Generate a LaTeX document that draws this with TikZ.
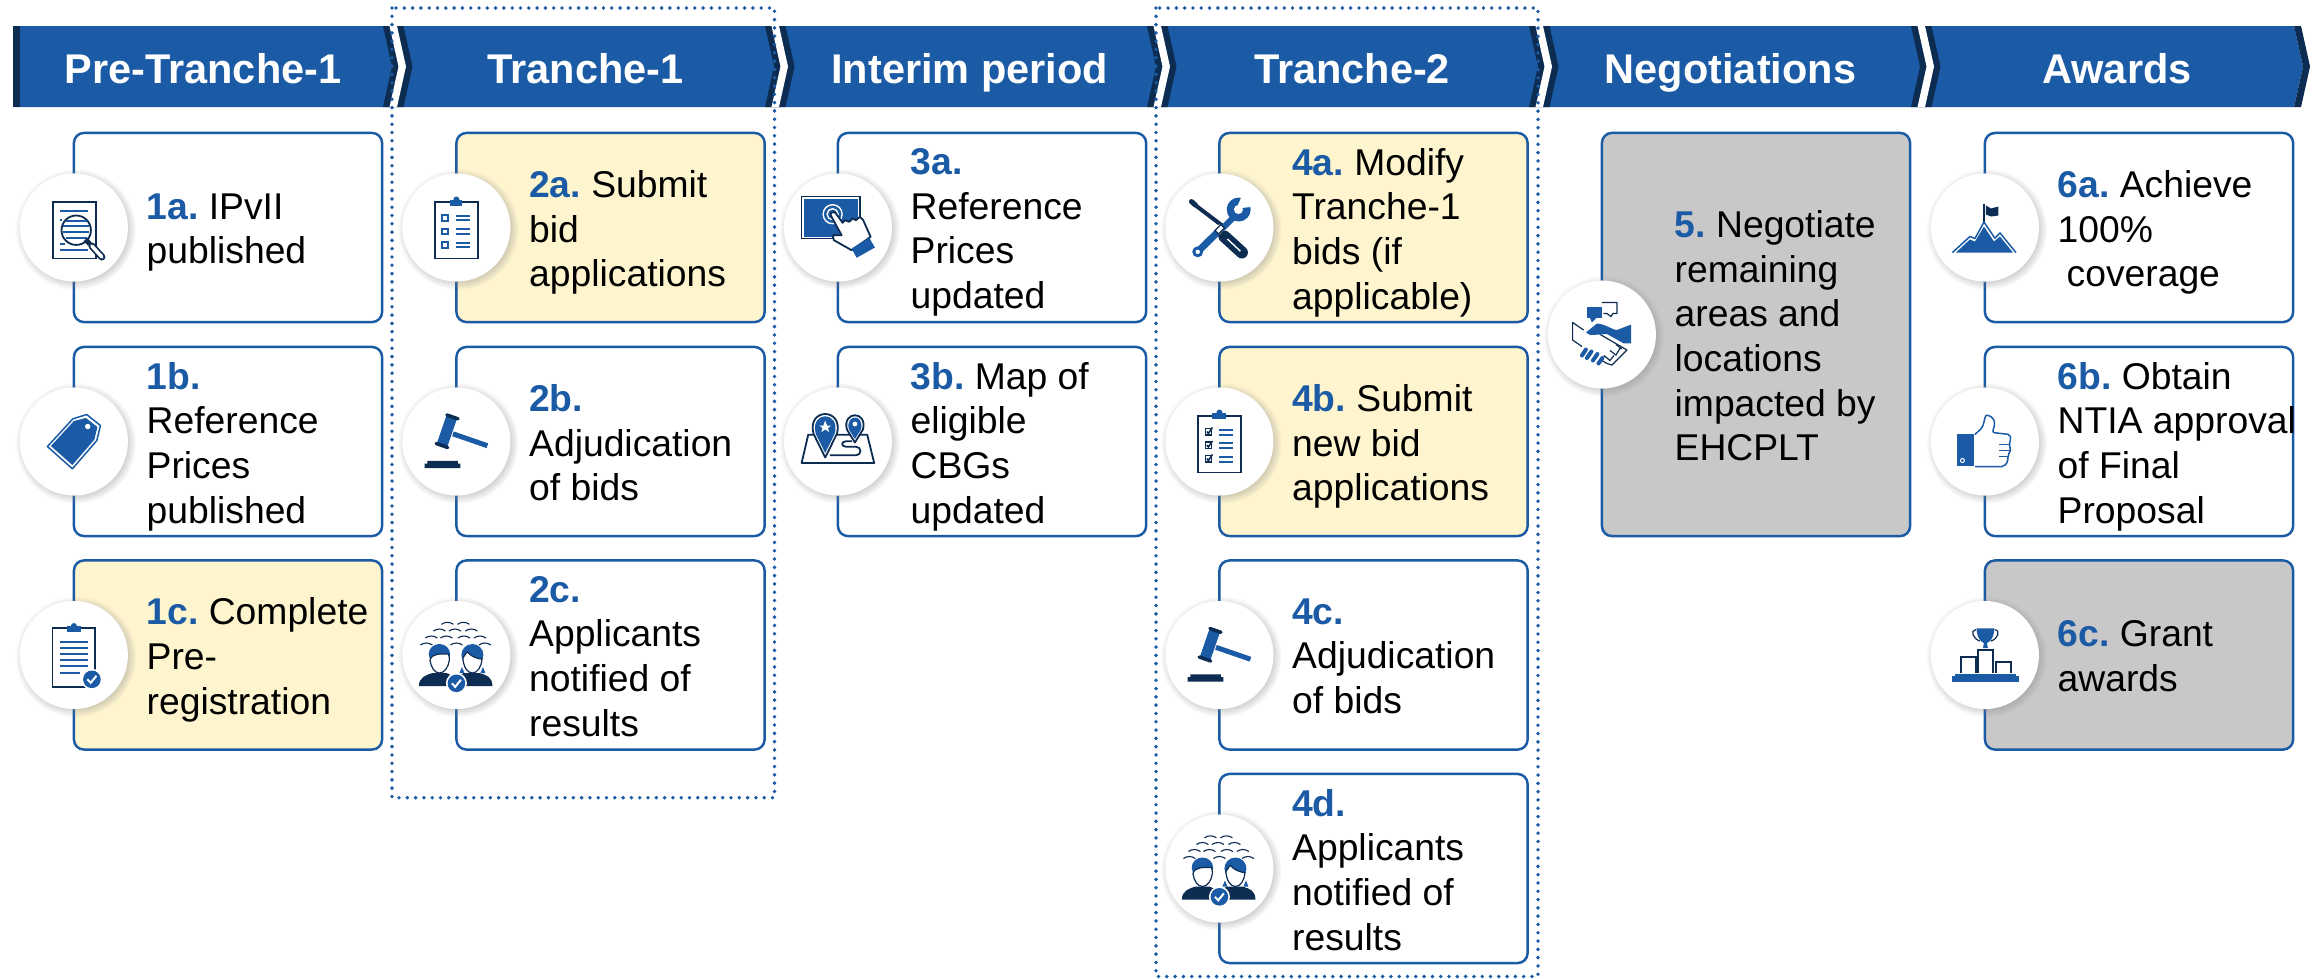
\documentclass[tikz,border=0pt]{standalone}
\usepackage{fontspec}
\setmainfont{Liberation Sans}
\usetikzlibrary{positioning,shadows}
\definecolor{trblue}{HTML}{1B5AA5}
\definecolor{trdark}{HTML}{0D2C52}
\definecolor{tryellow}{HTML}{FEF4CE}
\definecolor{trgrey}{HTML}{C8C8C8}
\newcommand{\stepno}[1]{\textcolor{trblue}{\textbf{#1}}}
\tikzset{
	headtext/.style={anchor=base,inner sep=0pt,text=white,font=\fontsize{11.8}{14}\selectfont\bfseries\frenchspacing},
	itembox/.style={draw=trblue,line width=0.7pt,rounded corners=0.1cm,fill=white,outer sep=0pt,minimum width=3.08cm,minimum height=1.89cm},
	yellowbox/.style={itembox,fill=tryellow},
	greybox/.style={itembox,fill=trgrey},
	itemtext/.style={inner sep=0pt,align=left,yshift=-2.2pt,font=\fontsize{10.6}{12.7}\selectfont\frenchspacing,execute at begin node=\strut,execute at end node=\strut},
	iconball/.style={circle,fill=white,minimum size=1.08cm,inner sep=0pt,circular drop shadow={shadow xshift=0.4pt,shadow yshift=-0.4pt,shadow scale=1.12,opacity=0.35}},
	dotbox/.style={trblue,line width=1.1pt,line cap=round,dash pattern=on 0pt off 2.36pt},
	iconline/.style={trdark,line width=0.018cm},
	bluerule/.style={trblue,line width=0.02cm},
	sepband/.pic={
		\fill[trdark] (0,26) -- (20.5,26) -- (29.5,66.5) -- (20.5,107) -- (0,107) -- (9,66.5) -- cycle;
		\fill[white] (6.5,26) -- (14,26) -- (23,66.5) -- (14,107) -- (6.5,107) -- (15.5,66.5) -- cycle;
	},
	checkbadge/.pic={
		\fill[white] (0,0) circle[radius=10.5];
		\fill[trblue] (0,0) circle[radius=8.8];
		\draw[white,line width=0.02cm] (-4.5,0) -- (-1.2,3.5) -- (4.5,-3.5);
	},
	docicon/.pic={
		\draw[iconline,fill=white] (-21.3,-25.7) rectangle (21.7,31);
		\draw[bluerule] (-14,-16.7) -- (14,-16.7) (-14,22) -- (14,22) (-14,16) -- (-9,16) (-14,-8) -- (-12,-8);
		\draw[iconline,fill=white] (2.3,2.7) circle[radius=14.7];
		\draw[bluerule] (-8.3,-6.7) -- (13.3,-6.7) (-10.5,-1.3) -- (15,-1.3) (-10.5,4.3) -- (15,4.3) (-8.3,10.3) -- (13.3,10.3);
		\draw[trdark,line width=0.05cm] (11.5,12) -- (16,16.5);
		\draw[trdark,line width=0.07cm,line cap=round] (18,18.5) -- (28,29.5);
		\draw[white,line width=0.035cm,line cap=round] (18,18.5) -- (28,29.5);
	},
	tagicon/.pic={
		\draw[trblue,line width=0.015cm,fill=white,line join=round] (12.8,-27) -- (26.5,-16) -- (22.9,-1) -- (-1.5,27.3) -- (-26.5,5) -- (-1,-22.7) -- cycle;
		\fill[trblue] (12,-23.5) -- (23.5,-14.5) -- (20.5,-2) -- (-1.5,23.5) -- (-23,4.5) -- (0,-20.5) -- cycle;
		\fill[white] (13.8,-15) circle[radius=2.7];
	},
	listicon/.pic={
		\draw[iconline,fill=white] (-21.4,-25.7) rectangle (21.4,31);
		\fill[trblue] (-6,-28) rectangle (6,-22);
		\fill[trblue] (0,-28) circle[radius=3];
		\draw[bluerule] (-14,-12.3) rectangle (-8,-6.7) (-14,1.2) rectangle (-8,6.8) (-14,14.7) rectangle (-8,20.3);
		\draw[bluerule] (-0.5,-12) -- (14,-12) (-0.5,-7.5) -- (14,-7.5) (-0.5,1.5) -- (14,1.5) (-0.5,6) -- (14,6) (-0.5,15) -- (14,15) (-0.5,19.5) -- (14,19.5);
	},
	checklisticon/.pic={
		\draw[iconline,fill=white] (-21.4,-25.7) rectangle (21.4,31);
		\fill[trblue] (-7,-29) rectangle (7,-23);
		\fill[trblue] (0,-29) circle[radius=3];
		\draw[iconline,line width=0.012cm] (-14,-13) rectangle (-8,-6.5) (-14,0.5) rectangle (-8,7) (-14,14) rectangle (-8,20.5);
		\draw[trdark,line width=0.016cm] (-12.5,-10) -- (-11,-8) -- (-7,-14) (-12.5,3.5) -- (-11,5.5) -- (-7,-0.5) (-12.5,17) -- (-11,19) -- (-7,13);
		\draw[bluerule] (0,-12) -- (14,-12) (0,-7) -- (14,-7) (0,1.5) -- (14,1.5) (0,6.5) -- (14,6.5) (0,15) -- (14,15) (0,20) -- (14,20);
	},
	gavelicon/.pic={
		\draw[trblue,line width=0.05cm] (-3.5,-7.7) -- (31,4.2);
		\draw[trblue,line width=0.11cm] (-4.5,-25) -- (-14.5,4);
		\draw[trdark,line width=0.035cm,line cap=round] (-9.5,-26.5) -- (1.5,-22.7) (-20.2,2) -- (-8.7,6);
		\fill[trdark] (-31.7,22) rectangle (4,26.7) (-29,19.3) rectangle (1.5,22);
	},
	peopleicon/.pic={
		\draw[trdark,line width=0.011cm] (-15,-30.7) to[bend left=35] (-3,-30.7) (1,-30.7) to[bend left=35] (13,-30.7)
			(-23,-24) to[bend left=35] (-11,-24) (-7.5,-24) to[bend left=35] (4.5,-24) (9,-24) to[bend left=35] (21,-24)
			(-31,-17) to[bend left=35] (-19,-17) (-16,-17) to[bend left=35] (-4,-17) (1.5,-17) to[bend left=35] (13.5,-17) (17.5,-17) to[bend left=35] (29.5,-17)
			(-36,-10) to[bend left=35] (-24,-10) (-6,-10) to[bend left=35] (6,-10) (22.5,-10) to[bend left=35] (34.5,-10);
		\fill[trdark] (-37.5,31) .. controls (-37.5,22) and (-30,20) .. (-24,18) -- (-10,18) .. controls (-5,20) and (-2,22) .. (0,26) .. controls (2,22) and (4,20) .. (7,18) -- (23,18) .. controls (30,20) and (36,22) .. (36,31) -- cycle;
		\fill[trblue] (3,18) -- (5.5,12) -- (8,18) -- cycle (24,18) -- (26.5,12) -- (29,18) -- cycle;
		\fill[trblue] (-17,-1) ellipse[x radius=10.7,y radius=10];
		\fill[trblue] (16,0) ellipse[x radius=11,y radius=11];
		\draw[trdark,line width=0.012cm,fill=white] (-26.5,5) .. controls (-24,-2) and (-16,-1) .. (-8,-1) .. controls (-7,2) and (-7,3) .. (-7,5) .. controls (-8,12) and (-12,18) .. (-17,18) .. controls (-22,18) and (-25.5,12) .. (-26.5,5) -- cycle;
		\draw[trdark,line width=0.012cm,fill=white] (6.5,3) .. controls (10,-2) and (10,-3) .. (11,-3) .. controls (15,2) and (22,4) .. (25.5,4) .. controls (25,12) and (21,18) .. (16,18) .. controls (11,18) and (7,12) .. (6.5,3) -- cycle;
		\pic at (0,28.3) {checkbadge};
	},
	clipicon/.pic={
		\draw[iconline,fill=white] (-21.4,-26.7) rectangle (21.4,31.7);
		\fill[trblue] (-7,-29) rectangle (7,-23);
		\fill[trblue] (0,-29) circle[radius=3];
		\draw[bluerule] (-14,-13) -- (14,-13) (-14,-7) -- (14,-7) (-14,-1) -- (14,-1) (-14,5) -- (14,5) (-14,11) -- (14,11) (-14,18) -- (6,18);
		\pic at (18,24.3) {checkbadge};
	},
	touchicon/.pic={
		\draw[trdark,line width=0.012cm] (-36.3,-30.7) rectangle (22,11);
		\fill[trblue] (-34.3,-28.7) rectangle (20,9.3);
		\draw[white,line width=0.014cm] (-5.3,-13.3) circle[radius=9.5];
		\draw[white,line width=0.014cm] (-5.3,-13.3) circle[radius=5.5];
		\draw[iconline,fill=white,line join=round] (-7.3,-12.3) .. controls (-8,-16) and (-3,-16) .. (-2,-14) -- (4.7,-4.7) -- (7,-7.3) -- (11.3,-5.7) -- (14.7,-9) -- (18,-7.3) -- (22,-10.7) -- (25.3,-7.3) -- (32.7,9.3) -- (13.7,22.7) -- (-4,12.7) .. controls (-6,9) and (-4,6) .. (-3,7.7) -- (3.7,7.7) -- cycle;
		\fill[trblue] (13.7,21) -- (31.3,10.3) -- (37,20) -- (18.7,30.3) -- cycle;
	},
	mapicon/.pic={
		\draw[iconline,line join=round] (-29.7,-6.8) -- (29.3,-6.8) -- (36.3,21.5) -- (-36.3,21.5) -- cycle;
		\draw[iconline,line join=round] (-8,13.8) -- (18,13.8) .. controls (24,13.8) and (24,5.2) .. (18,5.2) -- (8,5.2) .. controls (3,5.2) and (3,-0.2) .. (8,-0.2) -- (14,-0.2);
		\draw[iconline,fill=white,line join=round] (-12.7,16) -- (-24.5,-8) .. controls (-31,-34) and (5.6,-34) .. (-0.9,-8) -- cycle;
		\fill[trblue] (-12.7,11.5) -- (-22.3,-8) .. controls (-28,-31) and (2.6,-31) .. (-3.1,-8) -- cycle;
		\draw[iconline,fill=white,line join=round] (17,1) -- (9,-12) .. controls (4,-31) and (30,-31) .. (25,-12) -- cycle;
		\fill[trblue] (17,-2.5) -- (11,-12) .. controls (7,-28) and (27,-28) .. (23,-12) -- cycle;
		\fill[white] (-12.7,-21) -- (-10.9,-16) -- (-6.7,-16) -- (-10,-13.5) -- (-8.8,-9.5) -- (-12.7,-12) -- (-16.6,-9.5) -- (-15.4,-13.5) -- (-18.7,-16) -- (-14.5,-16) -- cycle;
		\fill[white] (17,-17.5) circle[radius=2.4];
	},
	toolsicon/.pic={
		\draw[trdark,line width=0.04cm,line cap=round] (-27,-24.5) -- (2.3,-2.3);
		\draw[trdark,line width=0.05cm,line cap=round] (-28,-26) -- (-24,-22.5);
		\draw[trblue,line width=0.07cm,line cap=round] (-20,22.5) -- (3,0);
		\fill[trblue] (-21.7,24.3) circle[radius=5.5];
		\fill[white] (-21.7,24.3) circle[radius=2.2];
		\draw[trblue,line width=0.06cm] (4,0) -- (15,-11);
		\fill[trblue] (19.3,-18) circle[radius=12];
		\fill[white] (19,-18) circle[radius=4.5];
		\fill[white] (17,-19) -- (23,-33) -- (36,-21) -- cycle;
		\draw[trdark,line width=0.12cm,line cap=round] (5,9) -- (22.5,25);
		\draw[white,line width=0.014cm] (8,11.5) -- (21,23.7);
		\draw[white,line width=0.07cm] (-2.5,4.5) -- (2.5,-1);
		\draw[trdark,line width=0.012cm] (-4.5,3) -- (-1,6.5) -- (5,0.5) -- (1.5,-3) -- cycle;
	},
	shakeicon/.pic={
		\fill[trblue] (-15,-28) rectangle (0,-17);
		\fill[trblue] (-12,-17) -- (-5,-17) -- (-10,-12) -- cycle;
		\draw[iconline,line width=0.012cm,line join=round] (0,-32) -- (15,-32) -- (15,-21) -- (11,-21) -- (9,-18) -- (5,-21) -- (1.5,-21);
		\draw[iconline,line width=0.012cm,line join=round] (-18.3,-4.5) -- (-29.3,-12) -- (-29.3,5.5) -- (-20,12);
		\draw[iconline,line width=0.012cm,line join=round] (-1.7,0) -- (25,15.5) -- (10,30.5) -- (5,29) -- (0,26);
		\draw[iconline,line width=0.012cm] (2,21) -- (8,26) -- (12,21) (8,16) -- (14,20.5) -- (18,14) (14,10) -- (20,14.5);
		\fill[trblue] (29.3,-10) -- (29.3,8.8) -- (21.7,8.8) -- (5,-0.5) -- (-1.7,0) -- (-11.7,0.5) -- (-16,-2) -- (-5,-11) .. controls (2,-11) and (12,-4) .. (15,-4.5) -- cycle;
		\draw[trblue,line width=0.04cm,line cap=round] (-20,21) -- (-16,15) (-15,23.5) -- (-10.5,17) (-9,26) -- (-4.5,19.5) (-3.5,29) -- (0.5,23.5);
	},
	mountainicon/.pic={
		\draw[trdark,line width=0.012cm] (-1,-24) -- (-1,-3.5);
		\fill[trdark] (1,-22) -- (6,-19) -- (13.5,-21) -- (13.5,-12) -- (6,-11) -- (1,-13) -- cycle;
		\draw[trblue,line width=0.015cm,line join=round] (-32.5,25) -- (-15,9) -- (-10,11) -- (-1,-5.4) -- (10,10.7) -- (15,5.4) -- (31,25);
		\fill[trblue] (-29,25) -- (-15,12) -- (-10,14) -- (-1,-1) -- (9,14) -- (15,9) -- (28,25) -- cycle;
	},
	thumbicon/.pic={
		\fill[trblue] (-27.5,-8) rectangle (-11,24);
		\draw[white,line width=0.01cm] (-22.5,19) circle[radius=2];
		\draw[trblue,line width=0.015cm,fill=white,line join=round,rounded corners=0.02cm] (-10,-7) -- (-2.5,-14) -- (1,-27) -- (8,-24) -- (10,-18) -- (7.5,-9) -- (25,-7) -- (26,-2) -- (24,3) -- (26,8) -- (23,14) -- (23,20) -- (19,25) -- (-10,25);
		\draw[trblue,line width=0.015cm] (14,3) -- (24,3) (14,9) -- (25,9) (14,15) -- (23,15);
	},
	trophyicon/.pic={
		\fill[trblue] (-33,21) rectangle (34,27);
		\fill[trblue] (-30,18.5) rectangle (31,21);
		\draw[iconline] (-24,18) -- (-24,1.7) -- (-9,1.7) -- (-9,18);
		\draw[iconline] (-7,18) -- (-7,-5) -- (8,-5) -- (8,18);
		\draw[iconline] (11,18) -- (11,7) -- (26,7) -- (26,18);
		\fill[trblue] (-8.5,-26.7) -- (9.5,-26.7) .. controls (9,-17) and (5,-13) .. (2,-12) -- (3,-7) -- (-2,-7) -- (-1,-12) .. controls (-4,-13) and (-8,-17) .. (-8.5,-26.7) -- cycle;
		\draw[iconline,line width=0.012cm] (-9,-25.5) .. controls (-15,-25) and (-12,-16) .. (-5,-14) (10,-25.5) .. controls (16,-25) and (13,-16) .. (6,-14);
	}
}
\begin{document}
\begin{tikzpicture}[
	x=0.01cm,
	y=-0.01cm,
	line join=miter
	]
	\useasboundingbox (0,0) rectangle (2313,978);
	% header band
	\fill[trblue] (13,26) -- (2294,26) -- (2303,66.5) -- (2294,107) -- (13,107) -- cycle;
	\fill[trdark] (13,26) rectangle (20,107);
	\pic at (383,0) {sepband};
	\pic at (765,0) {sepband};
	\pic at (1147,0) {sepband};
	\pic at (1529,0) {sepband};
	\pic at (1911,0) {sepband};
	\fill[trdark] (2294,26) -- (2301,26) -- (2310,66.5) -- (2301,107) -- (2294,107) -- (2303,66.5) -- cycle;
	\node[headtext] (hpre) at (203,83) {Pre-Tranche-1};
	\node[headtext] (htr1) at (585.5,83) {Tranche-1};
	\node[headtext] (hint) at (969.7,83) {Interim period};
	\node[headtext] (htr2) at (1352,83) {Tranche-2};
	\node[headtext] (hneg) at (1730.5,83) {Negotiations};
	\node[headtext] (hawd) at (2117,83) {Awards};
	% boxes
	\node[itembox] (b1a) at (228,227.5) {};
	\node[itembox] (b1b) at (228,441.5) {};
	\node[yellowbox] (b1c) at (228,655) {};
	\node[yellowbox] (b2a) at (610.5,227.5) {};
	\node[itembox] (b2b) at (610.5,441.5) {};
	\node[itembox] (b2c) at (610.5,655) {};
	\node[itembox] (b3a) at (992,227.5) {};
	\node[itembox] (b3b) at (992,441.5) {};
	\node[yellowbox] (b4a) at (1373.5,227.5) {};
	\node[yellowbox] (b4b) at (1373.5,441.5) {};
	\node[itembox] (b4c) at (1373.5,655) {};
	\node[itembox] (b4d) at (1373.5,868.5) {};
	\node[greybox,minimum height=4.03cm] (b5) at (1756,334.5) {};
	\node[itembox] (b6a) at (2139,227.5) {};
	\node[itembox] (b6b) at (2139,441.5) {};
	\node[greybox] (b6c) at (2139,655) {};
	% texts
	\node[itemtext,right=0.72cm of b1a.west] (t1a) {\stepno{1a.} IPvII\\published};
	\node[itemtext,right=0.72cm of b1b.west] (t1b) {\stepno{1b.}\\Reference\\Prices\\published};
	\node[itemtext,right=0.72cm of b1c.west] (t1c) {\stepno{1c.} Complete\\Pre-\\registration};
	\node[itemtext,right=0.72cm of b2a.west] (t2a) {\stepno{2a.} Submit\\bid\\applications};
	\node[itemtext,right=0.72cm of b2b.west] (t2b) {\stepno{2b.}\\Adjudication\\of bids};
	\node[itemtext,right=0.72cm of b2c.west] (t2c) {\stepno{2c.}\\Applicants\\notified of\\results};
	\node[itemtext,right=0.72cm of b3a.west] (t3a) {\stepno{3a.}\\Reference\\Prices\\updated};
	\node[itemtext,right=0.72cm of b3b.west] (t3b) {\stepno{3b.} Map of\\eligible\\CBGs\\updated};
	\node[itemtext,right=0.72cm of b4a.west] (t4a) {\stepno{4a.} Modify\\Tranche-1\\bids (if\\applicable)};
	\node[itemtext,right=0.72cm of b4b.west] (t4b) {\stepno{4b.} Submit\\new bid\\applications};
	\node[itemtext,right=0.72cm of b4c.west] (t4c) {\stepno{4c.}\\Adjudication\\of bids};
	\node[itemtext,right=0.72cm of b4d.west] (t4d) {\stepno{4d.}\\Applicants\\notified of\\results};
	\node[itemtext,right=0.72cm of b5.west] (t5) {\stepno{5.} Negotiate\\remaining\\areas and\\locations\\impacted by\\EHCPLT};
	\node[itemtext,right=0.72cm of b6a.west] (t6a) {\stepno{6a.} Achieve\\100\%\\\hspace*{0.24em}coverage};
	\node[itemtext,right=0.72cm of b6b.west] (t6b) {\stepno{6b.} Obtain\\NTIA approval\\of Final\\Proposal};
	\node[itemtext,right=0.72cm of b6c.west] (t6c) {\stepno{6c.} Grant\\awards};
	% icons
	\node[iconball] (i1a) at (b1a.west) {};
	\node[iconball] (i1b) at (b1b.west) {};
	\node[iconball] (i1c) at (b1c.west) {};
	\node[iconball] (i2a) at (b2a.west) {};
	\node[iconball] (i2b) at (b2b.west) {};
	\node[iconball] (i2c) at (b2c.west) {};
	\node[iconball] (i3a) at (b3a.west) {};
	\node[iconball] (i3b) at (b3b.west) {};
	\node[iconball] (i4a) at (b4a.west) {};
	\node[iconball] (i4b) at (b4b.west) {};
	\node[iconball] (i4c) at (b4c.west) {};
	\node[iconball] (i4d) at (b4d.west) {};
	\node[iconball] (i5) at (b5.west) {};
	\node[iconball] (i6a) at (b6a.west) {};
	\node[iconball] (i6b) at (b6b.west) {};
	\node[iconball] (i6c) at (b6c.west) {};
	\pic at (i1a) {docicon};
	\pic at (i1b) {tagicon};
	\pic at (i1c) {clipicon};
	\pic at (i2a) {listicon};
	\pic at (i2b) {gavelicon};
	\pic at (i2c) {peopleicon};
	\pic at (i3a) {touchicon};
	\pic at (i3b) {mapicon};
	\pic at (i4a) {toolsicon};
	\pic at (i4b) {checklisticon};
	\pic at (i4c) {gavelicon};
	\pic at (i4d) {peopleicon};
	\pic at (i5) {shakeicon};
	\pic at (i6a) {mountainicon};
	\pic at (i6b) {thumbicon};
	\pic at (i6c) {trophyicon};
	% tranche frames
	\draw[dotbox] (392,8) rectangle (774.5,797.7);
	\draw[dotbox] (1156,8) rectangle (1538,976.5);
\end{tikzpicture}
\end{document}
